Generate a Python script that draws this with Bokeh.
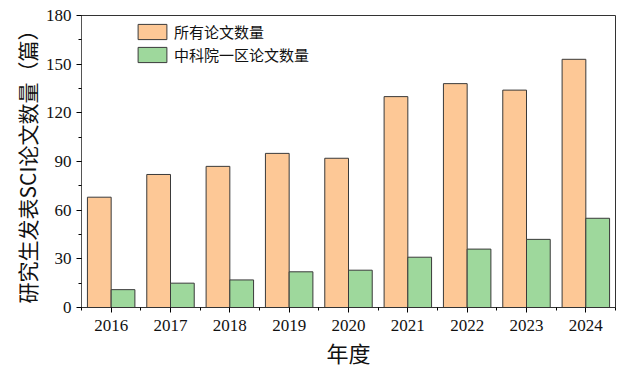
from bokeh.plotting import figure
from bokeh.models import ColumnDataSource, FixedTicker, Legend, LegendItem
from bokeh.embed import file_html
from bokeh.resources import INLINE

years = ["2016", "2017", "2018", "2019", "2020", "2021", "2022", "2023", "2024"]
all_papers = [68, 82, 87, 95, 92, 130, 138, 134, 153]
top_papers = [11, 15, 17, 22, 23, 31, 36, 42, 55]
y_ticks = [0, 30, 60, 90, 120, 150, 180]
series_names = ["所有论文数量", "中科院一区论文数量"]

SERIF = "Liberation Serif, Noto Sans CJK SC"
SANS = "Noto Sans CJK SC"

idx = list(range(len(years)))
src = ColumnDataSource(dict(
    xa=[i - 0.2 for i in idx], xb=[i + 0.2 for i in idx],
    a=all_papers, b=top_papers))

p = figure(width=632, height=370, output_backend="svg", toolbar_location=None,
           x_range=(-0.5, len(years) - 0.5), y_range=(0, 180),
           min_border_left=81, min_border_right=17, min_border_top=15, min_border_bottom=63)

r1 = p.vbar(x="xa", top="a", width=0.4, source=src, fill_color="#FDC896",
            line_color="#3a3a3a", line_width=1)
r2 = p.vbar(x="xb", top="b", width=0.4, source=src, fill_color="#9ED89C",
            line_color="#3a3a3a", line_width=1)

p.xgrid.visible = False
p.ygrid.visible = False
p.outline_line_color = "#333333"
p.outline_line_width = 1

xa = p.xaxis[0]
xa.ticker = FixedTicker(ticks=idx, minor_ticks=[i - 0.5 for i in range(len(years) + 1)])
xa.major_label_overrides = {i: y for i, y in enumerate(years)}
xa.major_label_text_font = SERIF
xa.major_label_text_font_size = "17px"
xa.major_label_text_color = "#111111"
xa.major_label_standoff = 7
xa.major_tick_in = 0
xa.major_tick_out = 5
xa.minor_tick_in = 0
xa.minor_tick_out = 3
xa.axis_label = "年度"
xa.axis_label_text_font = SERIF
xa.axis_label_text_font_size = "22px"
xa.axis_label_text_font_style = "normal"
xa.axis_label_text_color = "#111111"
xa.axis_label_standoff = 8
xa.axis_line_color = "#333333"

ya = p.yaxis[0]
ya.ticker = FixedTicker(ticks=y_ticks, minor_ticks=list(range(0, 181, 15)))
ya.major_label_text_font = SERIF
ya.major_label_text_font_size = "17px"
ya.major_label_text_color = "#111111"
ya.major_tick_in = 0
ya.major_tick_out = 5
ya.minor_tick_in = 0
ya.minor_tick_out = 3
ya.axis_label = "研究生发表SCI论文数量（篇）"
ya.axis_label_text_font = SANS
ya.axis_label_text_font_size = "21px"
ya.axis_label_text_font_style = "normal"
ya.axis_label_text_color = "#111111"
ya.axis_label_standoff = 1
ya.axis_line_color = "#555555"

legend = Legend(items=[LegendItem(label=series_names[0], renderers=[r1]),
                       LegendItem(label=series_names[1], renderers=[r2])],
                location=(53, 242), orientation="vertical")
legend.glyph_width = 36
legend.glyph_height = 19
legend.spacing = 2
legend.padding = 0
legend.margin = 0
legend.label_standoff = 4
legend.label_text_font = SERIF
legend.label_text_font_size = "15px"
legend.label_text_color = "#111111"
legend.label_height = 19
legend.background_fill_alpha = 0
legend.border_line_color = None
p.add_layout(legend, "center")

open("out.html", "w").write(file_html(p, INLINE))
